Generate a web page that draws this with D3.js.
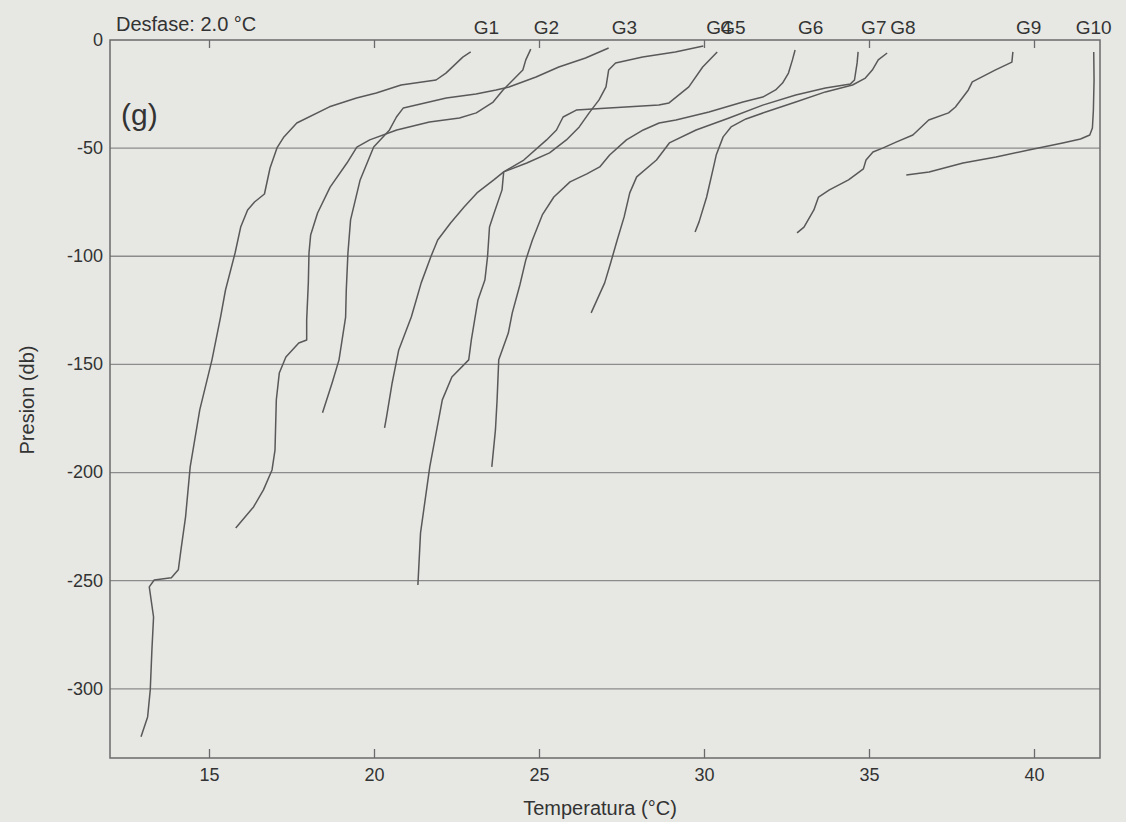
<!DOCTYPE html>
<html>
<head>
<meta charset="utf-8">
<script src="https://cdn.jsdelivr.net/npm/d3@7"></script>
<style>
  html, body { margin: 0; padding: 0; background: #e7e8e4; }
  svg { display: block; }
  text { font-family: "Liberation Sans", Arial, sans-serif; fill: #333; }
</style>
</head>
<body>
<svg id="chart" width="1126" height="822"></svg>
<script>
// ---------------- DATA (temperature °C, pressure db) ----------------
const profileNames = ["G1", "G2", "G3", "G4", "G5", "G6", "G7", "G8", "G9", "G10"];

const g1 = [[22.93,-5.5],[22.69,-7.9],[22.18,-15.3],[21.88,-18.5],[20.82,-20.8],[20.07,-24.5],[19.47,-26.8],[18.65,-30.9],[17.66,-38.4],[17.27,-44.8],[17.06,-49.9],[16.85,-59.2],[16.68,-71.2],[16.38,-74.9],[16.17,-78.6],[15.96,-86.5],[15.79,-98.5],[15.50,-115.6],[15.35,-128.1],[15.09,-147.9],[14.72,-171.0],[14.43,-197.4],[14.29,-220.5],[14.15,-235.8],[14.07,-245.0],[13.86,-248.7],[13.34,-249.7],[13.19,-252.9],[13.32,-266.8],[13.27,-282.0],[13.22,-300.5],[13.14,-313.0],[12.94,-322.2]];
const g2 = [[24.75,-4.2],[24.60,-9.2],[24.51,-13.9],[24.21,-18.5],[23.91,-23.1],[23.61,-28.7],[23.10,-33.7],[22.59,-36.1],[21.68,-37.9],[20.69,-41.6],[19.87,-46.2],[19.48,-49.5],[19.18,-56.9],[18.67,-68.0],[18.29,-80.0],[18.08,-90.2],[18.03,-98.5],[18.01,-112.3],[17.96,-129.4],[17.96,-138.7],[17.72,-140.1],[17.33,-146.6],[17.13,-154.0],[17.04,-166.4],[17.00,-189.6],[16.91,-198.8],[16.65,-208.0],[16.35,-215.9],[15.81,-225.6]];
const g3 = [[27.11,-3.7],[26.41,-8.3],[25.60,-12.5],[24.91,-17.1],[24.09,-21.7],[23.70,-23.1],[23.09,-25.0],[22.19,-26.8],[21.28,-30.1],[20.89,-31.4],[20.68,-35.6],[20.47,-41.6],[19.99,-49.5],[19.58,-64.7],[19.29,-83.2],[19.21,-98.5],[19.16,-115.6],[19.14,-128.1],[18.94,-147.9],[18.73,-158.6],[18.44,-172.4]];
const g4 = [[29.98,-2.8],[29.13,-5.5],[28.14,-7.9],[27.32,-10.6],[27.11,-13.9],[27.03,-21.7],[26.82,-27.7],[26.52,-33.7],[26.22,-40.2],[25.83,-46.2],[25.32,-52.2],[24.63,-56.9],[23.93,-61.0],[23.63,-64.7],[23.12,-70.7],[22.73,-77.2],[22.32,-84.6],[21.93,-92.5],[21.72,-100.3],[21.43,-112.3],[21.28,-120.2],[21.13,-128.1],[20.75,-143.3],[20.55,-158.6],[20.38,-174.3],[20.32,-179.4]];
const g5 = [[30.40,-5.5],[29.96,-12.5],[29.54,-21.7],[28.94,-29.1],[28.63,-30.1],[27.12,-31.4],[26.13,-32.4],[25.73,-35.6],[25.53,-41.6],[25.23,-46.2],[24.54,-55.5],[23.93,-61.0],[23.88,-69.3],[23.64,-80.0],[23.50,-86.5],[23.44,-100.3],[23.36,-111.0],[23.15,-120.2],[22.95,-138.7],[22.87,-147.9],[22.36,-155.8],[22.07,-166.4],[21.69,-197.4],[21.41,-227.9],[21.33,-252.0]];
const g6 = [[32.76,-4.6],[32.68,-9.2],[32.56,-15.3],[32.38,-19.9],[32.17,-23.1],[31.78,-26.4],[31.18,-28.7],[30.15,-33.3],[29.15,-37.0],[28.64,-38.4],[28.16,-41.6],[27.65,-46.2],[27.14,-53.2],[26.84,-58.7],[26.45,-61.9],[25.94,-65.6],[25.45,-72.6],[25.10,-80.9],[24.80,-92.5],[24.60,-101.7],[24.42,-113.3],[24.19,-126.2],[24.07,-135.5],[23.78,-147.9],[23.73,-166.4],[23.68,-180.3],[23.57,-197.4]];
const g7 = [[34.67,-5.5],[34.64,-10.6],[34.56,-18.5],[34.44,-20.3],[33.68,-22.2],[32.78,-25.4],[31.78,-30.1],[30.76,-36.1],[29.76,-41.6],[28.95,-47.6],[28.56,-55.5],[27.96,-63.3],[27.75,-70.7],[27.58,-81.8],[27.37,-92.5],[27.17,-103.1],[26.99,-112.3],[26.58,-126.2]];
const g8 = [[35.55,-6.0],[35.28,-9.2],[35.10,-13.9],[34.89,-17.6],[34.50,-20.8],[33.68,-24.0],[32.78,-28.7],[31.87,-33.3],[31.27,-36.5],[30.82,-40.2],[30.58,-44.8],[30.37,-53.2],[30.29,-58.7],[30.08,-72.6],[29.85,-84.1],[29.73,-88.8]];
const g9 = [[39.36,-5.5],[39.33,-10.2],[38.82,-13.9],[38.13,-19.4],[38.01,-23.1],[37.62,-31.0],[37.41,-33.7],[36.81,-37.0],[36.33,-43.9],[35.82,-47.2],[35.43,-49.9],[35.12,-51.8],[34.91,-55.5],[34.83,-59.6],[34.38,-64.7],[33.80,-69.3],[33.47,-72.6],[33.33,-78.6],[33.03,-86.5],[32.82,-89.2]];
const g10 = [[41.81,-5.5],[41.82,-18.5],[41.80,-32.4],[41.77,-40.7],[41.69,-43.9],[41.41,-45.8],[40.87,-47.6],[39.84,-50.9],[38.85,-54.1],[37.85,-56.9],[36.82,-61.0],[36.13,-62.4]];

const profiles = [g1, g2, g3, g4, g5, g6, g7, g8, g9, g10];

const xTicks = [15, 20, 25, 30, 35, 40];
const yTicks = [0, -50, -100, -150, -200, -250, -300];
const xDomain = [12, 42];
const yDomain = [-332, 0];

const offsetText = "Desfase: 2.0 °C";
const panelText = "(g)";
const xTitle = "Temperatura (°C)";
const yTitle = "Presion (db)";

// ---------------- DRAWING ----------------
const svg = d3.select("#chart");
const L = 110, R = 1100, T = 40, B = 758;

const x = d3.scaleLinear().domain(xDomain).range([L, R]);
const y = d3.scaleLinear().domain(yDomain).range([B, T]);

const lineCol = "#595959";
const gridCol = "#8c8c8c";

// grid lines
svg.append("g").selectAll("line")
  .data(yTicks.filter(d => d !== 0))
  .join("line")
  .attr("x1", x(xDomain[0])).attr("x2", x(xDomain[1]))
  .attr("y1", d => y(d)).attr("y2", d => y(d))
  .attr("stroke", gridCol).attr("stroke-width", 1.3);

// profiles
const line = d3.line().x(d => x(d[0])).y(d => y(d[1]));
svg.append("g").selectAll("path")
  .data(profiles)
  .join("path")
  .attr("d", line)
  .attr("fill", "none")
  .attr("stroke", lineCol)
  .attr("stroke-width", 1.5)
  .attr("stroke-linejoin", "round");

// frame
svg.append("rect")
  .attr("x", L).attr("y", T).attr("width", R - L).attr("height", B - T)
  .attr("fill", "none").attr("stroke", "#6a6a6a").attr("stroke-width", 1.5);

// bottom axis
const xAxis = svg.append("g").attr("transform", `translate(0,${B})`)
  .call(d3.axisBottom(x).tickValues(xTicks).tickSizeInner(-9).tickSizeOuter(0).tickPadding(10).tickFormat(d => String(d)));
// top axis (ticks only)
const xAxisTop = svg.append("g").attr("transform", `translate(0,${T})`)
  .call(d3.axisTop(x).tickValues(xTicks).tickSizeInner(-8).tickSizeOuter(0).tickFormat(""));
// left axis labels
const yAxis = svg.append("g").attr("transform", `translate(${L},0)`)
  .call(d3.axisLeft(y).tickValues(yTicks).tickSize(0).tickPadding(7).tickFormat(d => String(d)));

[xAxis, xAxisTop, yAxis].forEach(g => {
  g.select(".domain").remove();
  g.selectAll(".tick line").attr("stroke", "#6a6a6a").attr("stroke-width", 1.3);
  g.selectAll(".tick text").style("font-size", "18px").attr("fill", "#333")
    .style("font-family", "'Liberation Sans', Arial, sans-serif");
});
yAxis.selectAll(".tick text").attr("dy", "0.3em");

// profile labels at surface temperature
svg.append("g").selectAll("text")
  .data(profileNames)
  .join("text")
  .attr("x", (d, i) => x(profiles[i][0][0]) + (i === profileNames.length - 1 ? 0 : 3))
  .attr("y", 34)
  .attr("text-anchor", (d, i) => i === profileNames.length - 1 ? "middle" : "start")
  .style("font-size", "19px")
  .text(d => d);

// header texts
svg.append("text").attr("x", 116).attr("y", 31).style("font-size", "20px").text(offsetText);
svg.append("text").attr("x", 121).attr("y", 125).style("font-size", "30px").text(panelText);

// axis titles
svg.append("text")
  .attr("x", (L + R) / 2 - 5).attr("y", 815)
  .attr("text-anchor", "middle").style("font-size", "20px").text(xTitle);
svg.append("text")
  .attr("transform", "translate(27,400) rotate(-90)")
  .attr("dy", "0.35em")
  .attr("text-anchor", "middle").style("font-size", "20px").text(yTitle);
</script>
</body>
</html>
